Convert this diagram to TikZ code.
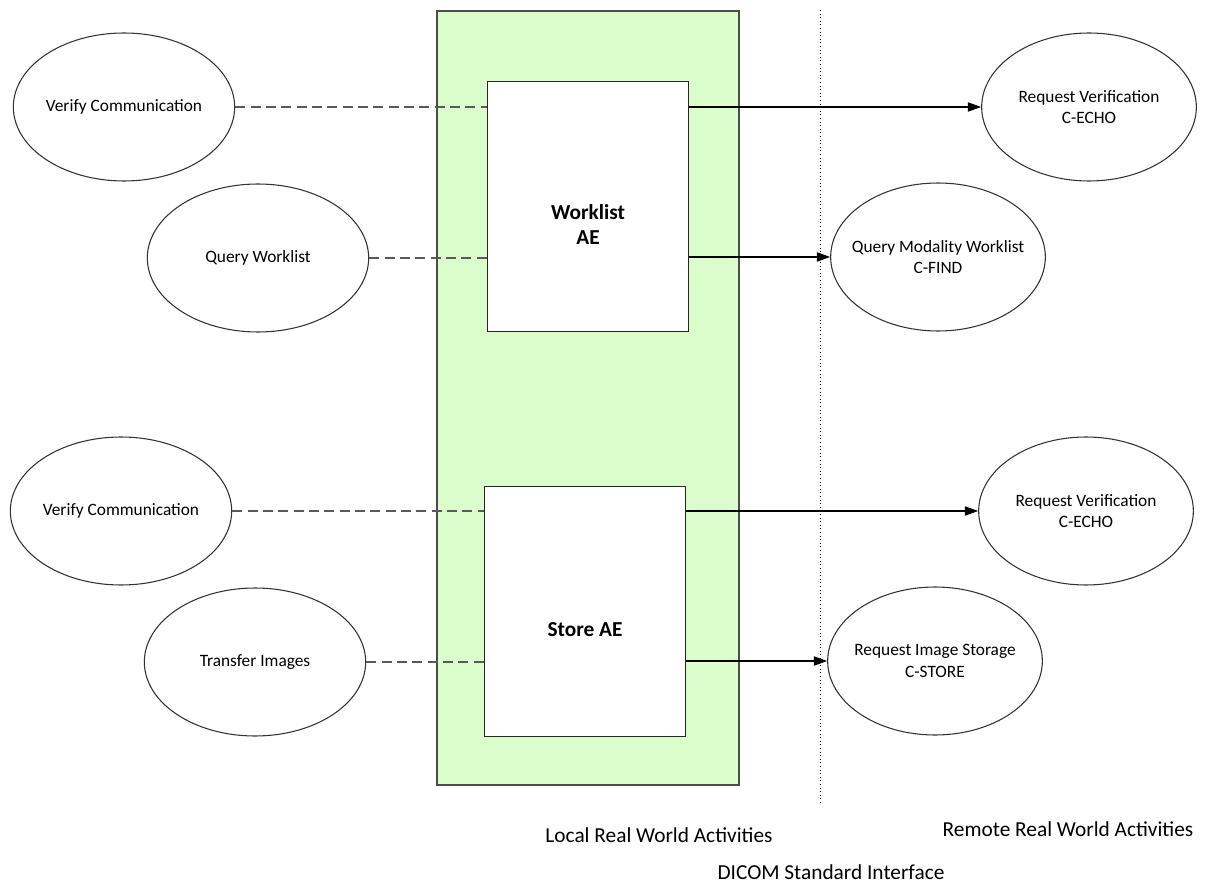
\documentclass[tikz,border=0pt]{standalone}
\usepackage{fontspec}
\setmainfont{Carlito}
\usepackage{xcolor}
\usepackage{tikz}
\usetikzlibrary{positioning,arrows.meta,calc,shapes.geometric}
\definecolor{localgreen}{RGB}{219,253,203}

\begin{document}
\begin{tikzpicture}[
    x=0.75pt, y=-0.75pt,
    activity/.style={ellipse,draw=black!80,line width=0.8pt,fill=white,
        minimum width=166pt,minimum height=111pt,inner ysep=0pt,inner xsep=-8pt,
        align=center,font=\fontsize{13}{16}\selectfont},
    aebox/.style={draw=black!85,line width=0.8pt,fill=white,
        minimum width=151pt,minimum height=188pt,inner sep=0pt},
    aelabel/.style={font=\fontsize{16}{19}\selectfont\bfseries,align=center},
    assoc/.style={dashed,dash pattern=on 7.5pt off 4pt,draw=black!65,line width=1pt},
    request/.style={-{Triangle[length=10pt,width=7pt]},line width=0.8pt},
    caption/.style={font=\fontsize{16}{19}\selectfont}
]
\useasboundingbox (0,0) rectangle (1224,884);

% local application entity frame
\draw[fill=localgreen,draw=black!70,line width=1.1pt] (437,11) rectangle (739,785);
\draw[dotted,line width=0.7pt] (820,10) coordinate (ifTop) -- (820,805) coordinate (ifBot);

\node[aebox] (worklist) at (588,206.5) {};
\node[aelabel] at ([yshift=-13.5pt]worklist.center) {Worklist\\AE};
\node[aebox] (store) at (585,611.5) {};
\node[aelabel] at ([yshift=-13.5pt]store.center) {Store AE};

% local activities
\node[activity] (verifyA) at (124,107) {Verify Communication};
\node[activity] (queryWL) at (258,258) {Query Worklist};
\node[activity] (verifyB) at (121,511) {Verify Communication};
\node[activity] (transfer) at (255,662) {Transfer Images};

% remote activities
\node[activity,minimum width=161pt] (echoA) at (1089,107) {Request Verification\\C-ECHO};
\node[activity,minimum width=161pt] (findMWL) at (938,257) {Query Modality Worklist\\C-FIND};
\node[activity,minimum width=161pt] (echoB) at (1086,511) {Request Verification\\C-ECHO};
\node[activity,minimum width=161pt] (storeImg) at (935,661) {Request Image Storage\\C-STORE};

\draw[assoc] (verifyA.east) -- (verifyA.east -| worklist.west);
\draw[assoc] (queryWL.east) -- (queryWL.east -| worklist.west);
\draw[assoc] (verifyB.east) -- (verifyB.east -| store.west);
\draw[assoc] (transfer.east) -- (transfer.east -| store.west);

\draw[request] (echoA.west -| worklist.east) -- (echoA.west);
\draw[request] (findMWL.west -| worklist.east) -- (findMWL.west);
\draw[request] (echoB.west -| store.east) -- (echoB.west);
\draw[request] (storeImg.west -| store.east) -- (storeImg.west);

\node[caption] (local) at (659,835) {Local Real World Activities};
\node[caption] (remote) at (1068,829) {Remote Real World Activities};
\node[caption] (dicom) at (831,872) {DICOM Standard Interface};

\end{tikzpicture}
\end{document}
